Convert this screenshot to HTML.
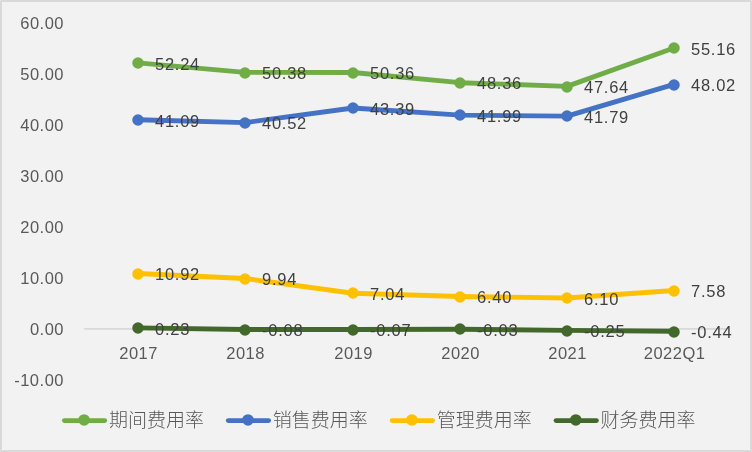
<!DOCTYPE html>
<html><head><meta charset="utf-8"><style>
html,body{margin:0;padding:0;background:#ffffff;}
.wrap{position:relative;width:752px;height:452px;box-sizing:border-box;border:2px solid #d9d9d9;border-radius:1.3px;background:#f2f2f2;overflow:hidden;}
svg{position:absolute;left:-2px;top:-2px;will-change:transform;}
.ax{font-family:"Liberation Sans",sans-serif;font-size:16.5px;fill:#595959;letter-spacing:0.5px;}
.dl{font-family:"Liberation Sans",sans-serif;font-size:16.5px;fill:#404040;letter-spacing:0.75px;}
.lg{font-family:"Liberation Sans","Noto Sans CJK SC",sans-serif;font-size:19px;fill:#595959;font-weight:300;}
</style></head><body><div class="wrap"><svg width="752" height="452" viewBox="0 0 752 452">
<text class="ax" x="64.0" y="29.17" text-anchor="end">60.00</text>
<text class="ax" x="64.0" y="80.12" text-anchor="end">50.00</text>
<text class="ax" x="64.0" y="131.07" text-anchor="end">40.00</text>
<text class="ax" x="64.0" y="182.02" text-anchor="end">30.00</text>
<text class="ax" x="64.0" y="232.97" text-anchor="end">20.00</text>
<text class="ax" x="64.0" y="283.92" text-anchor="end">10.00</text>
<text class="ax" x="64.0" y="334.87" text-anchor="end">0.00</text>
<text class="ax" x="64.0" y="385.82" text-anchor="end">-10.00</text>
<line x1="84.16" y1="328.8" x2="727.8" y2="328.8" stroke="#d9d9d9" stroke-width="1.8"/>
<text class="ax" x="138.60" y="359.3" text-anchor="middle">2017</text>
<text class="ax" x="245.60" y="359.3" text-anchor="middle">2018</text>
<text class="ax" x="353.60" y="359.3" text-anchor="middle">2019</text>
<text class="ax" x="460.60" y="359.3" text-anchor="middle">2020</text>
<text class="ax" x="567.60" y="359.3" text-anchor="middle">2021</text>
<text class="ax" x="674.60" y="359.3" text-anchor="middle">2022Q1</text>
<polyline points="138.00,62.91 245.00,72.38 353.00,72.49 460.00,82.68 567.00,86.34 674.00,48.03" fill="none" stroke="#70ad47" stroke-width="4.9" stroke-linejoin="round" stroke-linecap="round"/>
<circle cx="138.00" cy="63.00" r="5.75" fill="#70ad47"/>
<circle cx="245.00" cy="73.00" r="5.75" fill="#70ad47"/>
<circle cx="353.00" cy="73.00" r="5.75" fill="#70ad47"/>
<circle cx="460.00" cy="83.00" r="5.75" fill="#70ad47"/>
<circle cx="567.00" cy="87.00" r="5.75" fill="#70ad47"/>
<circle cx="674.00" cy="48.00" r="5.75" fill="#70ad47"/>
<polyline points="138.00,119.72 245.00,122.62 353.00,108.00 460.00,115.13 567.00,116.15 674.00,84.41" fill="none" stroke="#4472c4" stroke-width="4.9" stroke-linejoin="round" stroke-linecap="round"/>
<circle cx="138.00" cy="120.00" r="5.75" fill="#4472c4"/>
<circle cx="245.00" cy="123.00" r="5.75" fill="#4472c4"/>
<circle cx="353.00" cy="108.00" r="5.75" fill="#4472c4"/>
<circle cx="460.00" cy="115.00" r="5.75" fill="#4472c4"/>
<circle cx="567.00" cy="116.00" r="5.75" fill="#4472c4"/>
<circle cx="674.00" cy="85.00" r="5.75" fill="#4472c4"/>
<polyline points="138.00,273.43 245.00,278.43 353.00,293.20 460.00,296.46 567.00,297.99 674.00,290.45" fill="none" stroke="#ffc000" stroke-width="4.9" stroke-linejoin="round" stroke-linecap="round"/>
<circle cx="138.00" cy="274.00" r="5.75" fill="#ffc000"/>
<circle cx="245.00" cy="279.00" r="5.75" fill="#ffc000"/>
<circle cx="353.00" cy="293.00" r="5.75" fill="#ffc000"/>
<circle cx="460.00" cy="297.00" r="5.75" fill="#ffc000"/>
<circle cx="567.00" cy="298.00" r="5.75" fill="#ffc000"/>
<circle cx="674.00" cy="291.00" r="5.75" fill="#ffc000"/>
<polyline points="138.00,327.90 245.00,329.48 353.00,329.43 460.00,329.22 567.00,330.34 674.00,331.31" fill="none" stroke="#43682b" stroke-width="4.9" stroke-linejoin="round" stroke-linecap="round"/>
<circle cx="138.00" cy="328.00" r="5.75" fill="#43682b"/>
<circle cx="245.00" cy="330.00" r="5.75" fill="#43682b"/>
<circle cx="353.00" cy="330.00" r="5.75" fill="#43682b"/>
<circle cx="460.00" cy="329.00" r="5.75" fill="#43682b"/>
<circle cx="567.00" cy="331.00" r="5.75" fill="#43682b"/>
<circle cx="674.00" cy="332.00" r="5.75" fill="#43682b"/>
<text class="dl" x="155.00" y="69.71">52.24</text>
<text class="dl" x="262.00" y="79.18">50.38</text>
<text class="dl" x="370.00" y="79.29">50.36</text>
<text class="dl" x="477.00" y="89.48">48.36</text>
<text class="dl" x="584.00" y="93.14">47.64</text>
<text class="dl" x="691.00" y="54.83">55.16</text>
<text class="dl" x="155.00" y="126.52">41.09</text>
<text class="dl" x="262.00" y="129.42">40.52</text>
<text class="dl" x="370.00" y="114.80">43.39</text>
<text class="dl" x="477.00" y="121.93">41.99</text>
<text class="dl" x="584.00" y="122.95">41.79</text>
<text class="dl" x="691.00" y="91.21">48.02</text>
<text class="dl" x="155.00" y="280.23">10.92</text>
<text class="dl" x="262.00" y="285.23">9.94</text>
<text class="dl" x="370.00" y="300.00">7.04</text>
<text class="dl" x="477.00" y="303.26">6.40</text>
<text class="dl" x="584.00" y="304.79">6.10</text>
<text class="dl" x="691.00" y="297.25">7.58</text>
<text class="dl" x="155.00" y="334.70">0.23</text>
<text class="dl" x="262.00" y="336.28">-0.08</text>
<text class="dl" x="370.00" y="336.23">-0.07</text>
<text class="dl" x="477.00" y="336.02">-0.03</text>
<text class="dl" x="584.00" y="337.14">-0.25</text>
<text class="dl" x="691.00" y="338.11">-0.44</text>
<line x1="64.4" y1="420.6" x2="104.7" y2="420.6" stroke="#70ad47" stroke-width="4.9" stroke-linecap="round"/>
<circle cx="84.1" cy="419.9" r="5.75" fill="#70ad47"/>
<text class="lg" x="108.9" y="426.7">期间费用率</text>
<line x1="228.3" y1="420.6" x2="268.6" y2="420.6" stroke="#4472c4" stroke-width="4.9" stroke-linecap="round"/>
<circle cx="248.0" cy="419.9" r="5.75" fill="#4472c4"/>
<text class="lg" x="272.8" y="426.7">销售费用率</text>
<line x1="392.2" y1="420.6" x2="432.5" y2="420.6" stroke="#ffc000" stroke-width="4.9" stroke-linecap="round"/>
<circle cx="411.9" cy="419.9" r="5.75" fill="#ffc000"/>
<text class="lg" x="436.7" y="426.7">管理费用率</text>
<line x1="556.1" y1="420.6" x2="596.4" y2="420.6" stroke="#43682b" stroke-width="4.9" stroke-linecap="round"/>
<circle cx="575.8" cy="419.9" r="5.75" fill="#43682b"/>
<text class="lg" x="600.6" y="426.7">财务费用率</text>
</svg></div></body></html>
